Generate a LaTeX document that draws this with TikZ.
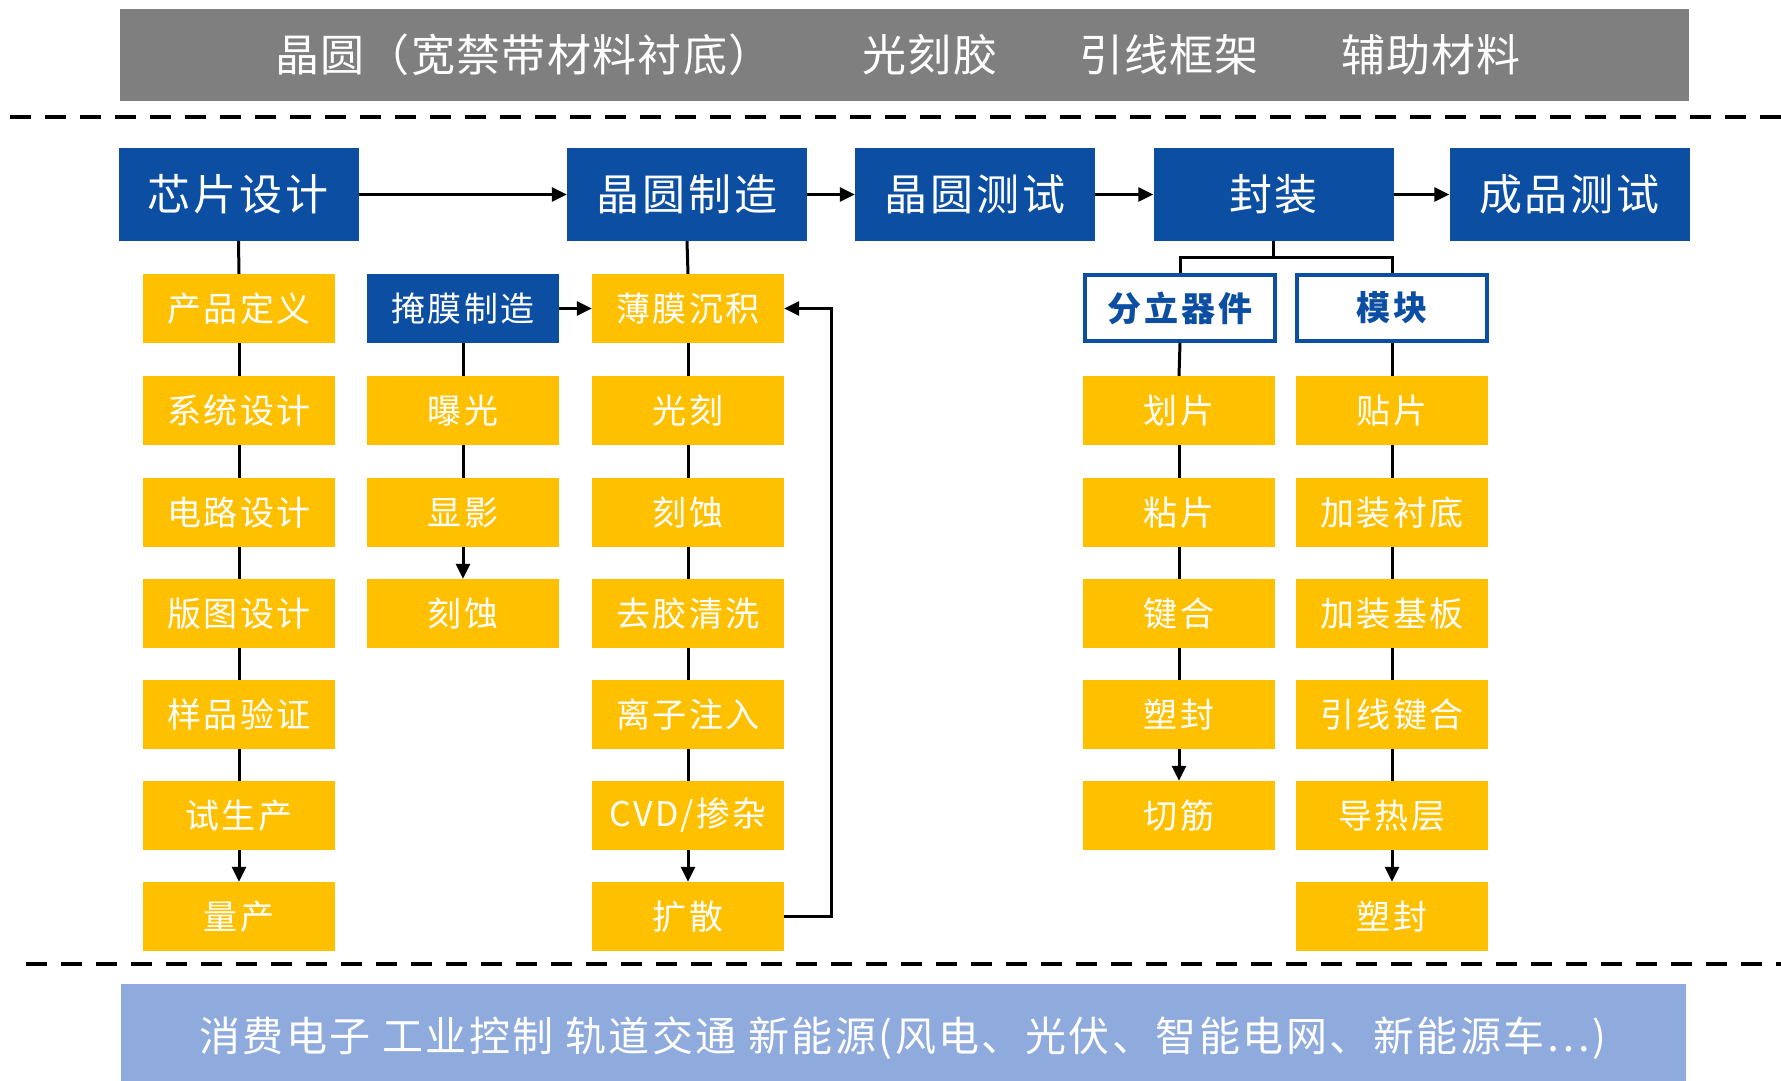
\documentclass[tikz,border=0pt]{standalone}
\usepackage{fontspec}
\setmainfont{Noto Sans CJK SC}
\usetikzlibrary{arrows.meta}
\definecolor{hblue}{RGB}{11,78,162}
\definecolor{ylw}{RGB}{255,192,0}
\definecolor{gbar}{RGB}{127,127,127}
\definecolor{bbar}{RGB}{143,170,220}
\begin{document}
\begin{tikzpicture}[x=1pt,y=-1pt,
  hdr/.style={fill=hblue, text=white, minimum width=240pt, minimum height=93pt, inner sep=0pt, font=\fontsize{43}{50}\selectfont\addfontfeatures{LetterSpace=7}},
  ybox/.style={fill=ylw, text=white, minimum width=192pt, minimum height=69pt, inner sep=0pt, font=\fontsize{34}{40}\selectfont\addfontfeatures{LetterSpace=7}},
  subhdr/.style={draw=hblue, line width=4pt, fill=white, text=hblue, minimum width=190pt, minimum height=66pt, inner sep=0pt, font=\bfseries\fontsize{34}{40}\selectfont\addfontfeatures{LetterSpace=8}},
  bartext/.style={text=white, inner sep=0pt, font=\fontsize{44}{52}\selectfont\addfontfeatures{LetterSpace=3}},
  conn/.style={line width=3pt, draw=black},
  arr/.style={conn, -{Triangle[length=15pt,width=14pt]}},
  sepline/.style={line width=4.5pt, dash pattern=on 21pt off 14pt},
]
\useasboundingbox (0,0) rectangle (1781,1081);
\fill[white] (0,0) rectangle (1781,1081);

% top materials bar
\fill[gbar] (120,9) rectangle (1689,101);
\node[bartext] (m1) at (524,55) {晶圆（宽禁带材料衬底）};
\node[bartext] (m2) at (930,55) {光刻胶};
\node[bartext] (m3) at (1169,55) {引线框架};
\node[bartext] (m4) at (1431,55) {辅助材料};

\draw[sepline] (10,117) -- (1781,117);
\draw[sepline] (26,964) -- (1781,964);

% bottom application bar
\fill[bbar] (121,984) rectangle (1686,1081);
\node[text=white, inner sep=0pt, font=\fontsize{41}{48}\selectfont\addfontfeatures{LetterSpace=6}] (app) at (903,1038) {消费电子 工业控制 轨道交通 新能源(风电、光伏、智能电网、新能源车⋯)};

% header row
\node[hdr] (cd) at (238.5,194.5) {芯片设计};
\node[hdr] (wm) at (687,194.5) {晶圆制造};
\node[hdr] (wt) at (975,194.5) {晶圆测试};
\node[hdr] (fz) at (1273.5,194.5) {封装};
\node[hdr] (cp) at (1569.5,194.5) {成品测试};

\draw[arr] (cd.east) -- (wm.west);
\draw[arr] (wm.east) -- (wt.west);
\draw[arr] (wt.east) -- (fz.west);
\draw[arr] (fz.east) -- (cp.west);

% column 1: chip design
\node[ybox] (a1) at (239,308.5) {产品定义};
\node[ybox] (a2) at (239,410.5) {系统设计};
\node[ybox] (a3) at (239,512.5) {电路设计};
\node[ybox] (a4) at (239,613.5) {版图设计};
\node[ybox] (a5) at (239,714.5) {样品验证};
\node[ybox] (a6) at (239,815.5) {试生产};
\node[ybox] (a7) at (239,916.5) {量产};
\draw[conn] (cd.south) -- (a1.north);
\draw[conn] (a1.south) -- (a2.north);
\draw[conn] (a2.south) -- (a3.north);
\draw[conn] (a3.south) -- (a4.north);
\draw[conn] (a4.south) -- (a5.north);
\draw[conn] (a5.south) -- (a6.north);
\draw[arr] (a6.south) -- (a7.north);

% column 2: mask
\node[ybox, fill=hblue] (b1) at (463,308.5) {掩膜制造};
\node[ybox] (b2) at (463,410.5) {曝光};
\node[ybox] (b3) at (463,512.5) {显影};
\node[ybox] (b4) at (463,613.5) {刻蚀};
\draw[conn] (b1.south) -- (b2.north);
\draw[conn] (b2.south) -- (b3.north);
\draw[arr] (b3.south) -- (b4.north);

% column 3: wafer fab
\node[ybox] (c1) at (688,308.5) {薄膜沉积};
\node[ybox] (c2) at (688,410.5) {光刻};
\node[ybox] (c3) at (688,512.5) {刻蚀};
\node[ybox] (c4) at (688,613.5) {去胶清洗};
\node[ybox] (c5) at (688,714.5) {离子注入};
\node[ybox] (c6) at (688,815.5) {CVD/掺杂};
\node[ybox] (c7) at (688,916.5) {扩散};
\draw[conn] (wm.south) -- (c1.north);
\draw[conn] (c1.south) -- (c2.north);
\draw[conn] (c2.south) -- (c3.north);
\draw[conn] (c3.south) -- (c4.north);
\draw[conn] (c4.south) -- (c5.north);
\draw[conn] (c5.south) -- (c6.north);
\draw[arr] (c6.south) -- (c7.north);
\draw[arr] (b1.east) -- (c1.west);
\draw[arr] (c7.east) -- ++(47,0) |- (c1.east);

% packaging
\node[subhdr] (d0) at (1180,308) {分立器件};
\node[subhdr] (e0) at (1392,308) {模块};
\draw[conn] (fz.south) -- ++(0,16) -| (d0.north);
\draw[conn] (fz.south) -- ++(0,16) -| (e0.north);

\node[ybox] (d1) at (1179,410.5) {划片};
\node[ybox] (d2) at (1179,512.5) {粘片};
\node[ybox] (d3) at (1179,613.5) {键合};
\node[ybox] (d4) at (1179,714.5) {塑封};
\node[ybox] (d5) at (1179,815.5) {切筋};
\draw[conn] (d0.south) -- (d1.north);
\draw[conn] (d1.south) -- (d2.north);
\draw[conn] (d2.south) -- (d3.north);
\draw[conn] (d3.south) -- (d4.north);
\draw[arr] (d4.south) -- (d5.north);

\node[ybox] (e1) at (1392,410.5) {贴片};
\node[ybox] (e2) at (1392,512.5) {加装衬底};
\node[ybox] (e3) at (1392,613.5) {加装基板};
\node[ybox] (e4) at (1392,714.5) {引线键合};
\node[ybox] (e5) at (1392,815.5) {导热层};
\node[ybox] (e6) at (1392,916.5) {塑封};
\draw[conn] (e0.south) -- (e1.north);
\draw[conn] (e1.south) -- (e2.north);
\draw[conn] (e2.south) -- (e3.north);
\draw[conn] (e3.south) -- (e4.north);
\draw[conn] (e4.south) -- (e5.north);
\draw[arr] (e5.south) -- (e6.north);
\end{tikzpicture}
\end{document}
